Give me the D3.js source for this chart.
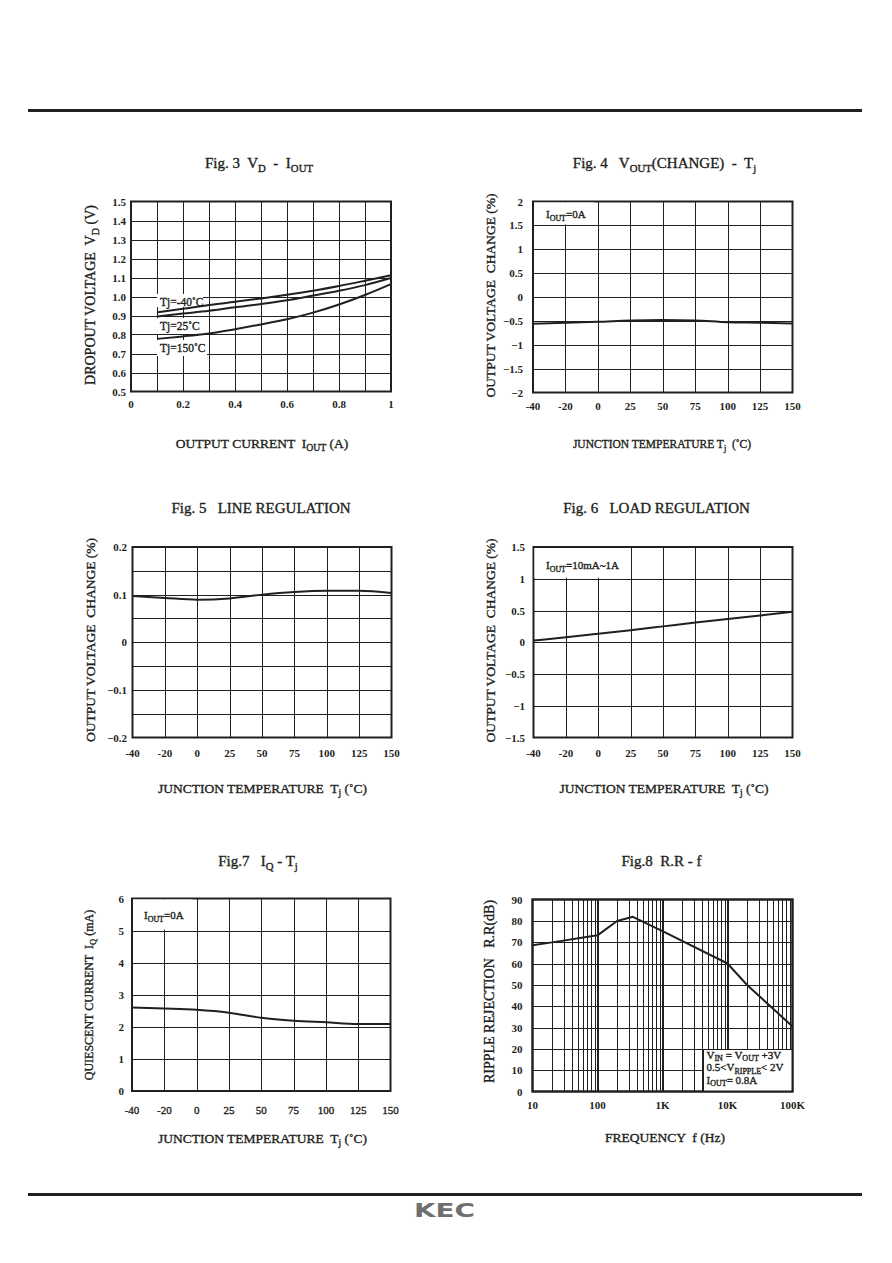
<!DOCTYPE html>
<html>
<head>
<meta charset="utf-8">
<script src="https://cdn.jsdelivr.net/npm/d3@7"></script>
<style>
body { margin: 0; background: #fff; }
text { font-family: 'Liberation Serif', 'Times New Roman', serif; fill: #231f20; white-space: pre; }
.heavy { stroke: #231f20; stroke-width: 0.35px; }
</style>
</head>
<body>
<script>
// ---- data ----
const tempLabels = ['-40', '-20', '0', '25', '50', '75', '100', '125', '150'];

// Fig 3 VD - IOUT
const vdCurrent = [0.1, 0.2, 0.3, 0.4, 0.5, 0.6, 0.7, 0.8, 0.9, 1.0];
const vdTjM40 = [0.916, 0.935, 0.955, 0.972, 0.99, 1.009, 1.03, 1.055, 1.083, 1.112];
const vdTj25 = [0.895, 0.91, 0.925, 0.943, 0.96, 0.98, 1.005, 1.03, 1.06, 1.097];
const vdTj150 = [0.777, 0.79, 0.805, 0.828, 0.853, 0.88, 0.915, 0.958, 1.008, 1.065];
const vdYTicks = [0.5, 0.6, 0.7, 0.8, 0.9, 1.0, 1.1, 1.2, 1.3, 1.4, 1.5];
const vdXTicks = [0, 0.2, 0.4, 0.6, 0.8, 1];
const vdXGrid = [0.1, 0.2, 0.3, 0.4, 0.5, 0.6, 0.7, 0.8, 0.9];

// Fig 4 VOUT(CHANGE) - Tj
const voutChange = [-0.56, -0.54, -0.52, -0.49, -0.48, -0.49, -0.53, -0.54, -0.555];
const voutTicks = [-2, -1.5, -1, -0.5, 0, 0.5, 1, 1.5, 2];

// Fig 5 line regulation
const lineReg = [0.097, 0.093, 0.0895, 0.092, 0.1, 0.1056, 0.108, 0.108, 0.1035];
const lineTicks = [-0.2, -0.1, 0, 0.1, 0.2];
const lineGrid = [-0.15, -0.1, -0.05, 0, 0.05, 0.1, 0.15];

// Fig 6 load regulation
const loadReg = [0.026, 0.08, 0.135, 0.19, 0.25, 0.31, 0.365, 0.42, 0.48];
const loadTicks = [-1.5, -1, -0.5, 0, 0.5, 1, 1.5];

// Fig 7 IQ - Tj
const iqValues = [2.6, 2.57, 2.53, 2.44, 2.28, 2.19, 2.14, 2.09, 2.09];
const iqTicks = [0, 1, 2, 3, 4, 5, 6];

// Fig 8 R.R - f
const rrFreq = [10, 20, 100, 200, 350, 1000, 10000, 20000, 100000];
const rrDb = [68.6, 69.9, 73.2, 79.9, 81.9, 75.2, 60, 49.9, 30.5];
const rrTicks = [0, 10, 20, 30, 40, 50, 60, 70, 80, 90];
const rrXTicks = [10, 100, 1000, 10000, 100000];
const rrXLabels = ['10', '100', '1K', '10K', '100K'];

const ink = '#231f20';

const svg = d3.select('body').append('svg')
    .attr('width', 892)
    .attr('height', 1263);

// header / footer rules
svg.append('rect').attr('x', 28).attr('y', 109).attr('width', 834).attr('height', 3).attr('fill', ink);
svg.append('rect').attr('x', 28).attr('y', 1193).attr('width', 834).attr('height', 3).attr('fill', ink);
svg.append('text')
    .attr('x', 414).attr('y', 1216.5)
    .attr('textLength', 61).attr('lengthAdjust', 'spacingAndGlyphs')
    .style('font-family', 'DejaVu Sans')
    .style('font-weight', 'bold')
    .style('font-size', '20px')
    .style('fill', '#6f6f6f')
    .text('KEC');

// text with subscripts: parts = [[str, isSub], ...]
function rich(t, parts, size) {
    let shifted = false;
    const sh = size * 0.28;
    parts.forEach(p => {
        const s = t.append('tspan').text(p[0]);
        if (p[1]) {
            s.attr('font-size', size * 0.72);
            if (!shifted) { s.attr('dy', sh); shifted = true; }
        } else if (shifted) {
            s.attr('dy', -sh); shifted = false;
        }
    });
    return t;
}

function label(x, y, parts, size, opts) {
    opts = opts || {};
    const t = svg.append('text')
        .attr('x', x).attr('y', y)
        .attr('text-anchor', opts.anchor || 'start')
        .classed('heavy', !!opts.heavy)
        .style('font-size', size + 'px')
        .style('font-weight', opts.bold ? 'bold' : 'normal');
    return rich(t, parts, size);
}

function yTitle(x, y, parts, size) {
    const t = svg.append('text')
        .attr('transform', `translate(${x},${y}) rotate(-90)`)
        .attr('text-anchor', 'middle')
        .classed('heavy', true)
        .style('font-size', size + 'px');
    return rich(t, parts, size);
}

const px = v => Math.round(v) + 0.5;

function frame(L, R, T, B, xs, ys) {
    const g = svg.append('g').attr('stroke', ink).attr('shape-rendering', 'crispEdges');
    g.selectAll('.vx').data(xs).enter().append('line')
        .attr('x1', d => px(d)).attr('x2', d => px(d))
        .attr('y1', T).attr('y2', B).attr('stroke-width', 1);
    g.selectAll('.hy').data(ys).enter().append('line')
        .attr('x1', L).attr('x2', R)
        .attr('y1', d => px(d)).attr('y2', d => px(d)).attr('stroke-width', 1);
    return g;
}

function border(L, R, T, B) {
    svg.append('rect')
        .attr('x', L).attr('y', T).attr('width', R - L).attr('height', B - T)
        .attr('fill', 'none').attr('stroke', ink).attr('stroke-width', 2);
}

function whiteBox(x, y, w, h) {
    svg.append('rect').attr('x', x).attr('y', y).attr('width', w).attr('height', h).attr('fill', '#fff');
}

function curve(xf, yf, xsData, ysData, type) {
    const line = d3.line()
        .x((d, i) => xf(xsData[i]))
        .y(d => yf(d))
        .curve(type || d3.curveMonotoneX);
    svg.append('path')
        .attr('d', line(ysData))
        .attr('fill', 'none')
        .attr('stroke', ink)
        .attr('stroke-width', 2)
        .attr('stroke-linejoin', 'round');
}

function yTickLabels(yf, ticks, right, fmt, bold) {
    ticks.forEach(v => {
        label(right, yf(v) + 4, [[fmt(v)]], 11, { anchor: 'end', bold: bold !== false });
    });
}

function tempXLabels(xf, base, bold) {
    tempLabels.forEach(v => {
        label(xf(v), base, [[v]], 11, { anchor: 'middle', bold: bold !== false, heavy: bold === false });
    });
}

const tempTitle = [['JUNCTION TEMPERATURE  T'], ['j', true], [' (\u02DAC)']];
const T15 = { anchor: 'middle', heavy: true };

// ---------- Fig 3 ----------
{
    const L = 131, R = 391, T = 201.5, B = 391.5;
    const x = d3.scaleLinear().domain([0, 1]).range([L, R]);
    const y = d3.scaleLinear().domain([0.5, 1.5]).range([B, T]);
    frame(L, R, T, B, vdXGrid.map(x), vdYTicks.slice(1, -1).map(y));
    border(L, R, T, B);
    whiteBox(157, 294, 46, 13);
    whiteBox(157, 318, 47, 16);
    whiteBox(157, 340, 50, 16);
    curve(x, y, vdCurrent, vdTjM40);
    curve(x, y, vdCurrent, vdTj25);
    curve(x, y, vdCurrent, vdTj150);
    label(160, 305.5, [['Tj=-40\u02DAC']], 11.5, { heavy: true });
    label(160, 329.5, [['Tj=25\u02DAC']], 11.5, { heavy: true });
    label(160, 351.5, [['Tj=150\u02DAC']], 11.5, { heavy: true });
    yTickLabels(y, vdYTicks, 126, d3.format('.1f'));
    vdXTicks.forEach(v => label(x(v), 408, [[String(v)]], 11, { anchor: 'middle', bold: true }));
    label(259, 168, [['Fig. 3  V'], ['D', true], ['  -  I'], ['OUT', true]], 15, T15);
    label(262, 447.5, [['OUTPUT CURRENT  I'], ['OUT', true], [' (A)']], 13.5, T15);
    yTitle(95, 295, [['DROPOUT VOLTAGE  V'], ['D', true], [' (V)']], 14);
}

// ---------- Fig 4 ----------
{
    const L = 533, R = 792.5, T = 201.5, B = 392.5;
    const x = d3.scalePoint().domain(tempLabels).range([L, R]);
    const y = d3.scaleLinear().domain([-2, 2]).range([B, T]);
    frame(L, R, T, B, tempLabels.slice(1, -1).map(x), voutTicks.slice(1, -1).map(y));
    border(L, R, T, B);
    whiteBox(L + 1, T + 1, x('0') - L - 5, y(1.5) - T - 2);
    curve(x, y, tempLabels, voutChange);
    label(546, 218, [['I'], ['OUT', true], ['=0A']], 11, { heavy: true });
    yTickLabels(y, voutTicks, 523, d3.format('~g'));
    tempXLabels(x, 410);
    label(664.5, 168, [['Fig. 4   V'], ['OUT', true], ['(CHANGE)  -  T'], ['j', true]], 15, T15);
    label(662, 447.5, [['JUNCTION TEMPERATURE T'], ['j', true], ['  (\u02DAC)']], 11.5, T15);
    yTitle(495, 295.5, [['OUTPUT VOLTAGE  CHANGE (%)']], 13.5);
}

// ---------- Fig 5 ----------
{
    const L = 132.5, R = 391.5, T = 547, B = 737.5;
    const x = d3.scalePoint().domain(tempLabels).range([L, R]);
    const y = d3.scaleLinear().domain([-0.2, 0.2]).range([B, T]);
    frame(L, R, T, B, tempLabels.slice(1, -1).map(x), lineGrid.map(y));
    border(L, R, T, B);
    curve(x, y, tempLabels, lineReg);
    yTickLabels(y, lineTicks, 127, d3.format('~g'));
    tempXLabels(x, 756.5);
    label(261, 513, [['Fig. 5   LINE REGULATION']], 15, T15);
    label(262.5, 792.5, tempTitle, 13.5, T15);
    yTitle(95, 640, [['OUTPUT VOLTAGE  CHANGE (%)']], 13.5);
}

// ---------- Fig 6 ----------
{
    const L = 533.5, R = 792.5, T = 547, B = 737.5;
    const x = d3.scalePoint().domain(tempLabels).range([L, R]);
    const y = d3.scaleLinear().domain([-1.5, 1.5]).range([B, T]);
    frame(L, R, T, B, tempLabels.slice(1, -1).map(x), loadTicks.slice(1, -1).map(y));
    border(L, R, T, B);
    whiteBox(L + 1, T + 1, x('25') - L - 5, y(1) - T - 2);
    curve(x, y, tempLabels, loadReg);
    label(546, 569, [['I'], ['OUT', true], ['=10mA~1A']], 11, { heavy: true });
    yTickLabels(y, loadTicks, 525, d3.format('~g'));
    tempXLabels(x, 756.5);
    label(656.5, 513, [['Fig. 6   LOAD REGULATION']], 15, T15);
    label(664, 792.5, tempTitle, 13.5, T15);
    yTitle(495, 640.5, [['OUTPUT VOLTAGE  CHANGE (%)']], 13.5);
}

// ---------- Fig 7 ----------
{
    const L = 132, R = 390.5, T = 898.5, B = 1091;
    const x = d3.scalePoint().domain(tempLabels).range([L, R]);
    const y = d3.scaleLinear().domain([0, 6]).range([B, T]);
    frame(L, R, T, B, tempLabels.slice(1, -1).map(x), iqTicks.slice(1, -1).map(y));
    border(L, R, T, B);
    whiteBox(L + 1, T + 1, x('0') - L - 5, y(5) - T - 2);
    curve(x, y, tempLabels, iqValues);
    label(144, 919, [['I'], ['OUT', true], ['=0A']], 11, { heavy: true });
    yTickLabels(y, iqTicks, 124, d3.format('d'));
    tempXLabels(x, 1114, false);
    label(258, 865.5, [['Fig.7   I'], ['Q', true], [' - T'], ['j', true]], 15, T15);
    label(262.5, 1142.5, tempTitle, 13.5, T15);
    yTitle(93, 995, [['QUIESCENT CURRENT  I'], ['Q', true], [' (mA)']], 12);
}

// ---------- Fig 8 ----------
{
    const L = 532.5, R = 792.5, T = 899.5, B = 1091.5;
    const x = d3.scaleLog().domain([10, 100000]).range([L, R]);
    const y = d3.scaleLinear().domain([0, 90]).range([B, T]);
    const minor = [];
    [10, 100, 1000, 10000].forEach(d => {
        for (let k = 2; k <= 9; k++) minor.push(d * k);
    });
    const g = frame(L, R, T, B, minor.map(x), rrTicks.slice(1, -1).map(y));
    g.selectAll('.major').data(rrXTicks.slice(1, -1)).enter().append('line')
        .attr('x1', d => Math.round(x(d))).attr('x2', d => Math.round(x(d)))
        .attr('y1', T).attr('y2', B).attr('stroke-width', 2);
    border(L, R, T, B);
    curve(x, y, rrFreq, rrDb, d3.curveLinear);
    svg.append('rect')
        .attr('x', 703.5).attr('y', px(y(20)))
        .attr('width', R - 703.5).attr('height', B - px(y(20)))
        .attr('fill', '#fff').attr('stroke', ink).attr('stroke-width', 1);
    border(L, R, T, B);
    // three-line condition note, one text element
    const note = svg.append('text').attr('class', 'heavy').style('font-size', '11px');
    const noteLines = [
        [['V'], ['IN', true], [' = V'], ['OUT', true], [' +3V']],
        [['0.5<V'], ['RIPPLE', true], ['< 2V']],
        [['I'], ['OUT', true], ['= 0.8A']]
    ];
    const noteBase = [1058.5, 1071, 1083.5];
    noteLines.forEach((parts, li) => {
        let shifted = false;
        parts.forEach((p, pi) => {
            const s = note.append('tspan').text(p[0]);
            if (pi === 0) s.attr('x', 706.5).attr('y', noteBase[li]);
            if (p[1]) {
                s.attr('font-size', 8);
                if (!shifted) { s.attr('dy', 2.6); shifted = true; }
            } else if (shifted) {
                s.attr('dy', -2.6); shifted = false;
            }
        });
    });
    yTickLabels(y, rrTicks, 522.5, d3.format('d'));
    rrXTicks.forEach((v, i) => label(x(v), 1108.5, [[rrXLabels[i]]], 11, { anchor: 'middle', bold: true }));
    label(661.5, 865.5, [['Fig.8  R.R - f']], 15, T15);
    label(665, 1141.5, [['FREQUENCY  f (Hz)']], 13.5, T15);
    yTitle(494, 991.5, [['RIPPLE REJECTION   R.R(dB)']], 14);
}
</script>
</body>
</html>
